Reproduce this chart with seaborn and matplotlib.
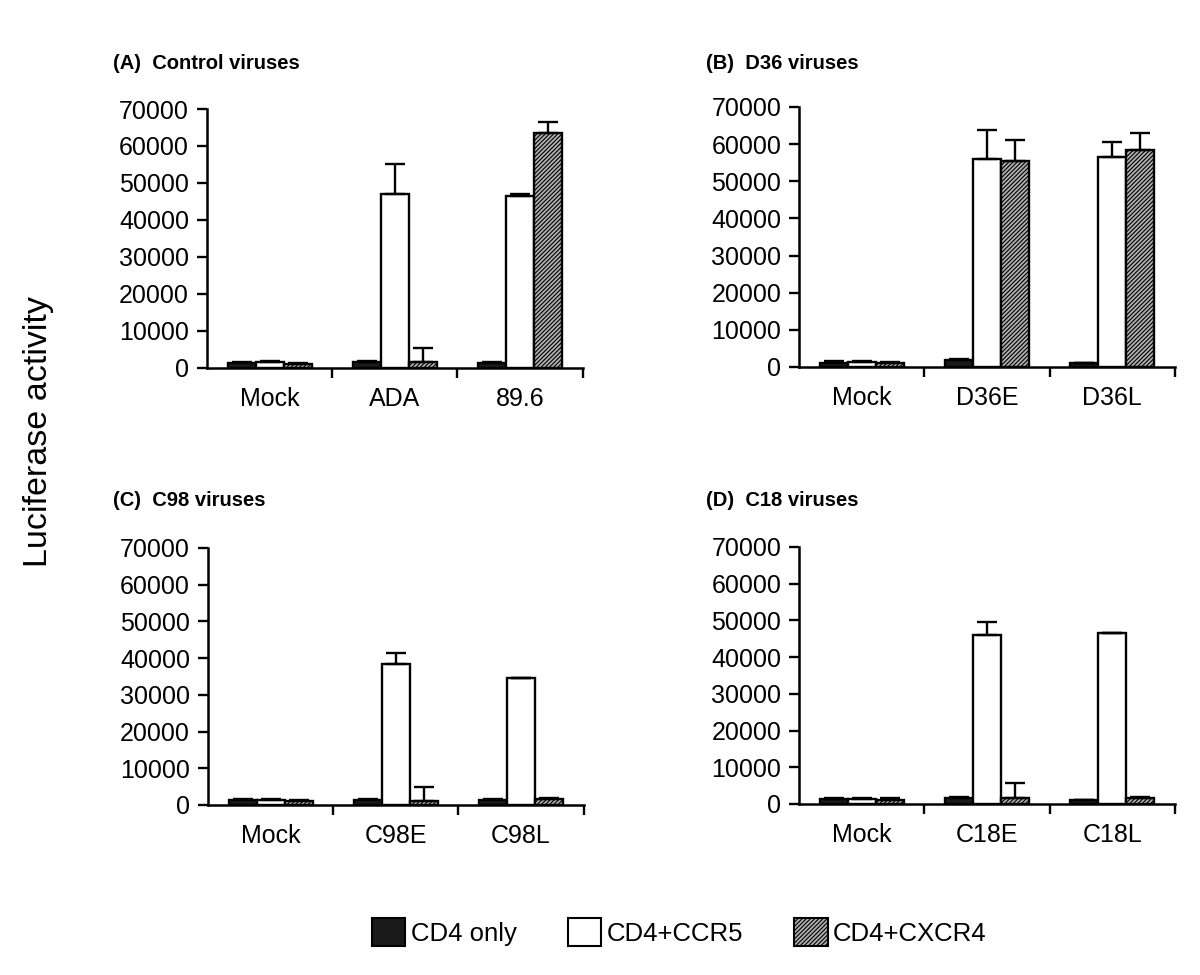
import matplotlib
matplotlib.use('Agg')
import matplotlib.pyplot as plt
from matplotlib.patches import Patch
import pandas as pd
import numpy as np
import seaborn as sns

# receptor combinations (hue levels)
receptors = ['CD4 only', 'CD4+CCR5', 'CD4+CXCR4']

# panel titles and virus names
titles = ['(A)  Control viruses', '(B)  D36 viruses', '(C)  C98 viruses', '(D)  C18 viruses']
viruses_a = ['Mock', 'ADA', '89.6']
viruses_b = ['Mock', 'D36E', 'D36L']
viruses_c = ['Mock', 'C98E', 'C98L']
viruses_d = ['Mock', 'C18E', 'C18L']

# mean luciferase activity, one list per receptor (in virus order)
cd4_a = [1300, 1700, 1300]
ccr5_a = [1500, 47000, 46500]
cxcr4_a = [1200, 1500, 63500]
cd4_b = [1200, 1800, 1000]
ccr5_b = [1400, 56000, 56500]
cxcr4_b = [1100, 55500, 58500]
cd4_c = [1300, 1300, 1300]
ccr5_c = [1400, 38500, 34500]
cxcr4_c = [1100, 1200, 1500]
cd4_d = [1300, 1500, 1000]
ccr5_d = [1300, 46000, 46500]
cxcr4_d = [1200, 1500, 1500]

# upper error (SD) per bar
err_cd4_a = [300, 300, 300]
err_ccr5_a = [300, 8000, 500]
err_cxcr4_a = [200, 4000, 3000]
err_cd4_b = [300, 300, 200]
err_ccr5_b = [200, 7800, 4000]
err_cxcr4_b = [200, 5500, 4500]
err_cd4_c = [300, 300, 300]
err_ccr5_c = [200, 3000, 200]
err_cxcr4_c = [200, 3800, 300]
err_cd4_d = [300, 300, 200]
err_ccr5_d = [200, 3500, 200]
err_cxcr4_d = [300, 4200, 300]

panels = [
    (viruses_a, [cd4_a, ccr5_a, cxcr4_a], [err_cd4_a, err_ccr5_a, err_cxcr4_a]),
    (viruses_b, [cd4_b, ccr5_b, cxcr4_b], [err_cd4_b, err_ccr5_b, err_cxcr4_b]),
    (viruses_c, [cd4_c, ccr5_c, cxcr4_c], [err_cd4_c, err_ccr5_c, err_cxcr4_c]),
    (viruses_d, [cd4_d, ccr5_d, cxcr4_d], [err_cd4_d, err_ccr5_d, err_cxcr4_d]),
]

sns.set_style('ticks')
plt.rcParams['font.family'] = ['Liberation Sans', 'DejaVu Sans']
plt.rcParams['hatch.linewidth'] = 0.8
for key in ['text.color', 'axes.labelcolor', 'xtick.color', 'ytick.color', 'axes.edgecolor']:
    plt.rcParams[key] = 'black'

colors = ['#1a1a1a', 'white', '#b0b0b0']
hatches = [None, None, '////////']

fig = plt.figure(figsize=(12, 9.75), dpi=100)
# axes positions in figure fractions [left, bottom, width, height]
boxes = [
    [0.1725, 0.6226, 0.313, 0.2656],
    [0.666, 0.6236, 0.313, 0.2667],
    [0.1733, 0.1744, 0.313, 0.2636],
    [0.666, 0.1754, 0.313, 0.2636],
]
title_pos = [(0.094, 0.935), (0.588, 0.935), (0.094, 0.487), (0.588, 0.487)]

for i, (viruses, vals, errs) in enumerate(panels):
    ax = fig.add_axes(boxes[i])
    df = pd.DataFrame({
        'virus': np.repeat([viruses], 3, axis=0).ravel(),
        'receptor': np.repeat(receptors, 3),
        'value': np.concatenate(vals),
    })
    sns.barplot(data=df, x='virus', y='value', hue='receptor', order=viruses,
                hue_order=receptors, palette=colors, width=0.67, gap=0,
                edgecolor='black', linewidth=1.7, legend=False, ax=ax)
    bar_groups = list(ax.containers)
    for k, cont in enumerate(bar_groups):
        xs = [p.get_x() + p.get_width() / 2 for p in cont]
        hs = [p.get_height() for p in cont]
        for p in cont:
            if hatches[k]:
                p.set_hatch(hatches[k])
        ax.errorbar(xs, hs, yerr=[np.zeros(3), errs[k]], fmt='none',
                    ecolor='black', elinewidth=1.7, capsize=7, capthick=1.7, zorder=1)

    ax.set_ylim(0, 70000)
    ax.set_yticks(np.arange(0, 70001, 10000))
    ax.set_yticklabels([str(v) for v in range(0, 70001, 10000)])
    ax.set_xlim(-0.5, 2.5)
    ax.set_xticks([0, 1, 2])
    ax.set_xticks([0.5, 1.5, 2.5], minor=True)
    ax.tick_params(axis='x', which='major', length=0, pad=14, labelsize=18)
    ax.tick_params(axis='x', which='minor', length=7, width=1.7, direction='out')
    ax.tick_params(axis='y', length=7, width=1.7, pad=6, labelsize=18)
    ax.set_xlabel('')
    ax.set_ylabel('')
    for s in ['top', 'right']:
        ax.spines[s].set_visible(False)
    for s in ['left', 'bottom']:
        ax.spines[s].set_linewidth(1.8)
    fig.text(title_pos[i][0], title_pos[i][1], titles[i], fontsize=14.5,
             fontweight='bold', ha='left', va='center')

fig.text(0.032, 0.557, 'Luciferase activity', rotation=90, fontsize=24.5,
         ha='center', va='center')

handles = [Patch(facecolor=colors[k], edgecolor='black', linewidth=1.5,
                 hatch=hatches[k], label=receptors[k]) for k in range(3)]
fig.legend(handles=handles, loc='center', bbox_to_anchor=(0.566, 0.044), ncol=3,
           frameon=False, fontsize=18.5, handlelength=1.3, handleheight=1.3,
           handletextpad=0.2, columnspacing=2.0)

fig.savefig('out.png', dpi=100)
